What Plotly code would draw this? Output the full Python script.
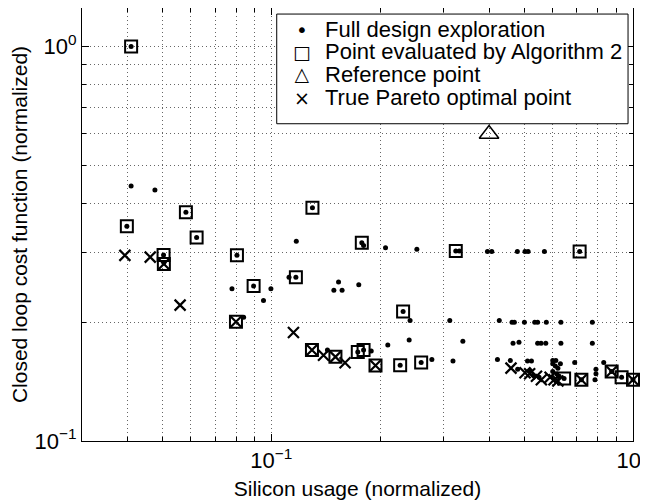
import plotly.graph_objects as go

# Full design exploration (silicon usage, cost)
full_x = [0.041, 0.041, 0.0477, 0.0399, 0.0581, 0.0622, 0.0504, 0.0505,
          0.0804, 0.0779, 0.0894, 0.0998, 0.0952, 0.0839, 0.1173, 0.117, 0.112,
          0.130, 0.178, 0.180, 0.207, 0.2527, 0.3237, 0.331, 0.1535, 0.149,
          0.157, 0.1746, 0.2315, 0.242, 0.3116, 0.3386, 0.2406, 0.21, 0.143,
          0.1735, 0.180, 0.189, 0.2272, 0.2597, 0.278, 0.318,
          0.396, 0.407, 0.479, 0.503, 0.513, 0.569, 0.712,
          0.427, 0.463, 0.470, 0.501, 0.535, 0.545, 0.576, 0.632, 0.772,
          0.466, 0.484, 0.545, 0.557, 0.574, 0.632, 0.772,
          0.422, 0.458, 0.511, 0.524, 0.600, 0.612, 0.69, 0.83,
          0.60, 0.61, 0.62, 0.60, 0.615, 0.625, 0.63,
          0.48, 0.52, 0.53, 0.55,
          0.79, 0.79, 0.785, 0.873, 0.93, 1.0, 0.645, 0.72]
full_y = [1.0, 0.443, 0.433, 0.350, 0.380, 0.328, 0.296, 0.283,
          0.2955, 0.243, 0.247, 0.243, 0.227, 0.206, 0.321, 0.260, 0.260,
          0.390, 0.318, 0.313, 0.309, 0.306, 0.303, 0.303, 0.253, 0.241,
          0.241, 0.249, 0.213, 0.202, 0.202, 0.179, 0.1804, 0.175, 0.170,
          0.168, 0.170, 0.169, 0.1556, 0.158, 0.161, 0.1596,
          0.302, 0.302, 0.302, 0.302, 0.302, 0.302, 0.302,
          0.202, 0.200, 0.200, 0.200, 0.200, 0.200, 0.200, 0.200, 0.200,
          0.177, 0.178, 0.177, 0.177, 0.177, 0.177, 0.177,
          0.161, 0.160, 0.1596, 0.1596, 0.160, 0.160, 0.158, 0.158,
          0.157, 0.155, 0.153, 0.150, 0.148, 0.146, 0.157,
          0.152, 0.151, 0.147, 0.145,
          0.152, 0.148, 0.143, 0.150, 0.145, 0.143, 0.144, 0.143]

# Points evaluated by Algorithm 2
alg_x = [0.041, 0.0399, 0.0581, 0.0622, 0.0504, 0.0505, 0.0804, 0.0894,
         0.0799, 0.117, 0.130, 0.178, 0.3237, 0.712, 0.2315, 0.1296, 0.1505,
         0.1735, 0.180, 0.1942, 0.2272, 0.2597, 0.645, 0.72, 0.873, 0.93, 1.0]
alg_y = [1.0, 0.350, 0.380, 0.328, 0.296, 0.281, 0.2955, 0.247,
         0.2005, 0.260, 0.390, 0.318, 0.303, 0.302, 0.213, 0.170, 0.1634,
         0.168, 0.170, 0.1553, 0.1556, 0.158, 0.144, 0.143, 0.150, 0.145, 0.143]

# Reference point
ref_x = [0.4]
ref_y = [0.6]

# True Pareto optimal points
par_x = [0.0394, 0.0463, 0.0505, 0.056, 0.0799, 0.1152, 0.1296, 0.1395,
         0.1505, 0.160, 0.1942, 0.46, 0.503, 0.518, 0.541, 0.558, 0.59,
         0.605, 0.62, 0.72, 0.873, 1.0]
par_y = [0.2955, 0.2925, 0.281, 0.221, 0.2005, 0.1884, 0.170, 0.165,
         0.1634, 0.1578, 0.1553, 0.153, 0.149, 0.148, 0.146, 0.143, 0.145,
         0.143, 0.142, 0.143, 0.150, 0.143]

series_names = ["Full design exploration", "Point evaluated by Algorithm 2",
                "Reference point", "True Pareto optimal point"]
legend_glyphs = ["\u2022", "\u25a1", "\u25b3", "\u00d7"]

x_tickvals = [0.1, 1]
x_ticktext = ["10<sup>\u22121</sup>", "10<sup>0</sup>"]
y_tickvals = [0.1, 1]
y_ticktext = ["10<sup>\u22121</sup>", "10<sup>0</sup>"]
x_minor = [0.04, 0.05, 0.06, 0.07, 0.08, 0.09, 0.2, 0.3, 0.4, 0.5, 0.6, 0.7, 0.8, 0.9]
y_minor = [0.2, 0.3, 0.4, 0.5, 0.6, 0.7, 0.8, 0.9]

FONT = "Liberation Sans, Arial, Helvetica, sans-serif"
GRID = "#666"
DOT = "1px,3px"

fig = go.Figure()
fig.add_trace(go.Scatter(x=full_x, y=full_y, mode="markers", name=series_names[0],
                         cliponaxis=False,
                         marker=dict(symbol="circle", size=5, color="black")))
fig.add_trace(go.Scatter(x=alg_x, y=alg_y, mode="markers", name=series_names[1],
                         cliponaxis=False,
                         marker=dict(symbol="square-open", size=12, color="black",
                                     line=dict(width=2, color="black"))))
fig.add_trace(go.Scatter(x=ref_x, y=ref_y, mode="markers", name=series_names[2],
                         cliponaxis=False,
                         marker=dict(symbol="triangle-up-open", size=17, color="black",
                                     line=dict(width=1.5, color="black"))))
fig.add_trace(go.Scatter(x=par_x, y=par_y, mode="markers", name=series_names[3],
                         cliponaxis=False,
                         marker=dict(symbol="x-thin-open", size=11, color="black",
                                     line=dict(width=2.2, color="black"))))

axis_common = dict(
    type="log", showline=True, linecolor="black", linewidth=1, mirror="allticks",
    ticks="inside", ticklen=7, tickcolor="black", tickmode="array",
    showgrid=True, gridcolor=GRID, griddash=DOT, gridwidth=1,
    zeroline=False, automargin=False, ticklabeloverflow="allow",
    tickfont=dict(family=FONT, size=22, color="black"),
)

fig.update_xaxes(**axis_common, range=[-1.523, 0], tickvals=x_tickvals, ticktext=x_ticktext,
                 minor=dict(tickmode="array", tickvals=x_minor, ticks="inside", ticklen=4,
                            tickcolor="black", showgrid=True, gridcolor=GRID,
                            griddash=DOT, gridwidth=1),
                 title=dict(text="Silicon usage (normalized)", standoff=8,
                            font=dict(family=FONT, size=21, color="black")))
fig.update_yaxes(**axis_common, range=[-1, 0.0975], tickvals=y_tickvals, ticktext=y_ticktext,
                 minor=dict(tickmode="array", tickvals=y_minor, ticks="inside", ticklen=4,
                            tickcolor="black", showgrid=True, gridcolor=GRID,
                            griddash=DOT, gridwidth=1),
                 title=dict(text="Closed loop cost function (normalized)", standoff=2,
                            font=dict(family=FONT, size=21, color="black")))

# Legend box drawn as a white panel with a black border (paper coordinates)
fig.add_shape(type="rect", xref="paper", yref="paper", x0=0.3534, x1=0.991,
              y0=0.7327, y1=0.986, line=dict(color="black", width=1),
              fillcolor="white", layer="above")
row_y = [0.9493, 0.8993, 0.8472, 0.7933]
glyph_sizes = [20, 19, 19, 19]
for name, glyph, gy, gs in zip(series_names, legend_glyphs, row_y, glyph_sizes):
    fig.add_annotation(xref="paper", yref="paper", x=0.3987, y=gy, text=glyph,
                       showarrow=False, xanchor="center", yanchor="middle",
                       width=16, height=18, borderpad=0,
                       font=dict(family="DejaVu Sans, " + FONT, size=gs, color="black"))
    fig.add_annotation(xref="paper", yref="paper", x=0.440, y=gy, text=name,
                       showarrow=False, xanchor="left", yanchor="middle", borderpad=0,
                       font=dict(family=FONT, size=22, color="black"))

# The page body adds an 8px offset, so the figure is sized to the remaining window.
fig.update_layout(
    width=640, height=494,
    margin=dict(l=74, r=15, t=0, b=61),
    plot_bgcolor="white", paper_bgcolor="white",
    font=dict(family=FONT, color="black"),
    showlegend=False,
)

fig.write_html("out.html")
